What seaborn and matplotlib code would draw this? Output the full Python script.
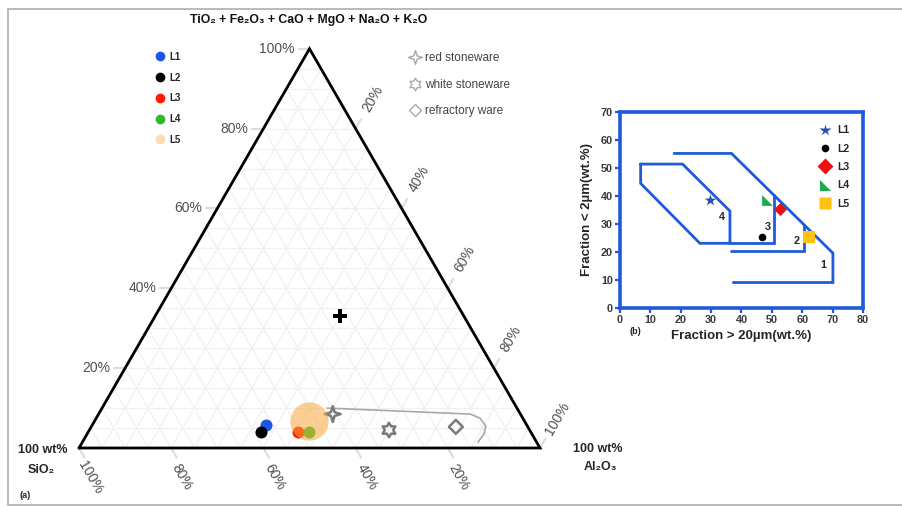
import numpy as np
import pandas as pd
import matplotlib
matplotlib.use("Agg")
import matplotlib.pyplot as plt
from matplotlib.lines import Line2D
from matplotlib.path import Path
import seaborn as sns

# ---------------- data: ternary diagram (a) ----------------
samples = ["L1", "L2", "L3", "L4", "L5"]
sample_sio2 = [56.6, 58.5, 50.6, 48.1, 46.7]
sample_al2o3 = [37.7, 37.5, 45.4, 47.9, 46.5]
sample_other = [5.7, 4.0, 4.0, 4.0, 6.8]
sample_colors = ["#1f55e6", "#000000", "#ff1a00", "#2dbb2d", "#f9a93a"]

ref_names = ["red stoneware", "white stoneware", "refractory ware"]
ref_sio2 = [40.7, 30.5, 15.6]
ref_al2o3 = [50.8, 65.0, 79.1]
ref_other = [8.5, 4.5, 5.3]

plus_sio2 = [26.8]
plus_al2o3 = [40.1]
plus_other = [33.1]

curve_al2o3 = [48.8, 80.6, 83.2, 85.5, 86.1, 85.8]
curve_other = [10.0, 8.5, 7.5, 5.5, 3.5, 1.5]

tern_ticks = [20, 40, 60, 80, 100]
tern_title = "TiO\u2082 + Fe\u2082O\u2083 + CaO + MgO + Na\u2082O + K\u2082O"

# ---------------- data: grain-size diagram (b) ----------------
zone4_x = [6.8, 20.6, 36.2, 36.2, 26.3, 6.8, 6.8]
zone4_y = [51.4, 51.4, 34.6, 23.1, 23.1, 44.5, 51.4]
zone3_x = [50.6, 50.6, 36.2]
zone3_y = [40.4, 23.1, 23.1]
zone2_x = [60.5, 60.5, 36.7]
zone2_y = [29.8, 20.5, 20.5]
zone1_x = [17.8, 36.7, 70.1, 70.1, 37.3]
zone1_y = [55.2, 55.2, 19.6, 9.1, 9.1]
zone_names = ["1", "2", "3", "4"]
zone_label_x = [66.8, 58.3, 48.8, 33.5]
zone_label_y = [15.2, 24.1, 28.8, 32.4]

pb_x = [29.6, 46.8, 52.7, 48.5, 62.1]
pb_y = [38.6, 25.3, 35.2, 38.6, 25.5]
pb_colors = ["#274fb0", "#000000", "#ee1111", "#1faa4a", "#ffc20e"]

# ---------------- style ----------------
sns.set_theme(style="white")
plt.rcParams["font.family"] = ["Liberation Sans", "DejaVu Sans"]

W, Hpx = 903, 507
fig = plt.figure(figsize=(W / 100, Hpx / 100), dpi=100)
fig.patch.set_facecolor("white")


def fx(px):
    return px / W


def fy(py):
    return 1 - py / Hpx


# outer frame (open on the right)
for xs, ys in [([8, W], [9, 9]), ([8, 8], [9, 505]), ([8, W], [505, 505])]:
    fig.add_artist(Line2D([fx(x) for x in xs], [fy(y) for y in ys],
                          color="#b4b4b4", lw=1.3))

# ---------------- ternary axes ----------------
H = np.sqrt(3) / 2
tri_left, tri_right, tri_base = 79, 540, 448
side = tri_right - tri_left
ax = fig.add_axes([fx(tri_left), fy(tri_base), side / W, side * H / Hpx])
ax.set_xlim(0, 1)
ax.set_ylim(0, H)
ax.axis("off")
u = 1 / side  # one pixel in data units


def tern_xy(sio2, al2o3, other):
    s = np.asarray(sio2, float) + np.asarray(al2o3, float) + np.asarray(other, float)
    a = np.asarray(al2o3, float) / s
    t = np.asarray(other, float) / s
    return a + t / 2, t * H


# grid every 5 %
gkw = dict(color="#f1f1f1", lw=0.9, zorder=0)
for k in range(1, 20):
    f = k / 20
    ax.plot([f / 2, 1 - f / 2], [f * H, f * H], **gkw)
    ax.plot([f, f + (1 - f) / 2], [0, (1 - f) * H], **gkw)
    ax.plot([1 - f, (1 - f) / 2], [0, (1 - f) * H], **gkw)

# outline
ax.plot([0, 1, 0.5, 0], [0, 0, H, 0], color="black", lw=2, zorder=5,
        clip_on=False, solid_joinstyle="miter")

tick_col = "#dcdcdc"
lab_col = "#505050"
dl = np.array([0.5, H])      # up-right
db = np.array([0.5, -H])     # down-right
for v in tern_ticks:
    f = v / 100
    # left axis (other oxides)
    p = np.array([f / 2, f * H])
    ax.plot([p[0] - 11 * u, p[0]], [p[1], p[1]], color=tick_col, lw=1.5, clip_on=False)
    ax.text(p[0] - 15 * u, p[1], f"{v}%", ha="right", va="center",
            fontsize=10, color=lab_col)
    # right axis (Al2O3)
    p = np.array([0.5 + f / 2, (1 - f) * H])
    q = p + 11 * u * dl
    ax.plot([p[0], q[0]], [p[1], q[1]], color=tick_col, lw=1.5, clip_on=False)
    r = p + 34 * u * dl
    ax.text(r[0], r[1], f"{v}%", ha="center", va="center", rotation=60,
            fontsize=10, color=lab_col)
    # bottom axis (SiO2)
    p = np.array([1 - f, 0])
    q = p + 11 * u * db
    ax.plot([p[0], q[0]], [p[1], q[1]], color=tick_col, lw=1.5, clip_on=False)
    r = p + np.array([11 * u, -29 * u])
    ax.text(r[0], r[1], f"{v}%", ha="center", va="center", rotation=-60,
            fontsize=10, color=lab_col)

# boundary curve
cx, cy = tern_xy([100 - a - o for a, o in zip(curve_al2o3, curve_other)],
                 curve_al2o3, curve_other)
ax.plot(cx, cy, color="#a8a8a8", lw=1.2, zorder=2, solid_capstyle="round")


def star_path(n, inner, rot=90):
    ang = np.deg2rad(rot) + np.arange(2 * n) * np.pi / n
    rad = np.where(np.arange(2 * n) % 2 == 0, 1.0, inner)
    verts = np.column_stack([rad * np.cos(ang), rad * np.sin(ang)])
    verts = np.vstack([verts, verts[:1]])
    codes = [Path.MOVETO] + [Path.LINETO] * (2 * n - 1) + [Path.CLOSEPOLY]
    return Path(verts, codes)


ref_markers = [star_path(4, 0.33), star_path(6, 0.58), "D"]
ref_sizes = [130, 110, 50]
rx, ry = tern_xy(ref_sio2, ref_al2o3, ref_other)
for i, name in enumerate(ref_names):
    d = pd.DataFrame({"x": [rx[i]], "y": [ry[i]]})
    sns.scatterplot(data=d, x="x", y="y", marker=ref_markers[i], s=ref_sizes[i],
                    facecolor="none", edgecolor="#7a7a7a", linewidth=1.8,
                    ax=ax, zorder=3, legend=False)

# plus marker
px_, py_ = tern_xy(plus_sio2, plus_al2o3, plus_other)
sns.scatterplot(x=px_, y=py_, marker="P", s=110, color="black", linewidth=0,
                ax=ax, zorder=4, legend=False)

# samples
sx, sy = tern_xy(sample_sio2, sample_al2o3, sample_other)
df_s = pd.DataFrame({"sample": samples, "x": sx, "y": sy})
pal = dict(zip(samples, sample_colors))
for i, name in enumerate(samples):
    d = df_s.iloc[[i]]
    big = name == "L5"
    sns.scatterplot(data=d, x="x", y="y", hue="sample", palette=pal,
                    s=760 if big else 75, alpha=0.55 if big else 1.0,
                    linewidth=0, ax=ax, zorder=6 + i, legend=False)

ax.set_xlabel("")
ax.set_ylabel("")

# legends for ternary
sample_handles = [Line2D([], [], ls="none", marker="o", markersize=7,
                         markerfacecolor=c, markeredgecolor="none",
                         alpha=0.4 if n == "L5" else 1.0)
                  for n, c in zip(samples, sample_colors)]
leg1 = fig.legend(handles=sample_handles, labels=samples, loc="upper left",
                  bbox_to_anchor=(fx(150), fy(47)), frameon=False,
                  prop=dict(size=7, weight="bold"), labelspacing=1.1,
                  handlelength=1.0, handletextpad=0.5, borderpad=0)

ref_handles = [Line2D([], [], ls="none", marker=m, markersize=ms,
                      markerfacecolor="none", markeredgecolor="#a8a8a8", mew=1.0)
               for m, ms in zip(ref_markers, [10, 9, 6])]
leg2 = fig.legend(handles=ref_handles, labels=ref_names, loc="upper left",
                  bbox_to_anchor=(fx(403), fy(46)), frameon=False,
                  prop=dict(size=8.5), labelspacing=1.25, labelcolor="#444444",
                  handlelength=1.0, handletextpad=0.4, borderpad=0)

# texts
fig.text(fx(309), fy(20), tern_title, ha="center", va="center",
         fontsize=8.8, fontweight="bold", color="#111111")
fig.text(fx(43), fy(450), "100 wt%", ha="center", va="center",
         fontsize=9, fontweight="bold")
fig.text(fx(41), fy(470), "SiO\u2082", ha="center", va="center",
         fontsize=9, fontweight="bold")
fig.text(fx(598), fy(449), "100 wt%", ha="center", va="center",
         fontsize=9, fontweight="bold")
fig.text(fx(600), fy(467), "Al\u2082O\u2083", ha="center", va="center",
         fontsize=9, fontweight="bold")
fig.text(fx(25), fy(496), "(a)", ha="center", va="center",
         fontsize=6.5, fontweight="bold")

# ---------------- panel (b) ----------------
blue = "#1f5bd8"
bx0, bx1, by0, by1 = 620, 863, 112, 308
axb = fig.add_axes([fx(bx0), fy(by1), (bx1 - bx0) / W, (by1 - by0) / Hpx])
axb.set_xlim(0, 80)
axb.set_ylim(0, 70)
axb.set_xticks(range(0, 81, 10))
axb.set_yticks(range(0, 71, 10))
for sp in axb.spines.values():
    sp.set_color(blue)
    sp.set_linewidth(2.6)
axb.tick_params(direction="out", length=3.5, width=1.6, color=blue,
                labelsize=7.8, labelcolor="#3a3a3a", pad=1.5,
                bottom=True, left=True)
for lbl in axb.get_xticklabels() + axb.get_yticklabels():
    lbl.set_fontweight("bold")

lkw = dict(color=blue, lw=2.0, solid_joinstyle="miter", zorder=2)
axb.plot(zone4_x, zone4_y, **lkw)
axb.plot(zone3_x, zone3_y, **lkw)
axb.plot(zone2_x, zone2_y, **lkw)
axb.plot(zone1_x, zone1_y, **lkw)
for n, x, y in zip(zone_names, zone_label_x, zone_label_y):
    axb.text(x, y, n, ha="center", va="center", fontsize=7.8, fontweight="bold")

tri_path = Path([(-1, -1), (1, -1), (-1, 1), (-1, -1)],
                [Path.MOVETO, Path.LINETO, Path.LINETO, Path.CLOSEPOLY])
pb_markers = ["*", "o", "D", tri_path, "s"]
pb_sizes = [75, 30, 45, 60, 70]
df_b = pd.DataFrame({"sample": samples, "x": pb_x, "y": pb_y})
for i, name in enumerate(samples):
    sns.scatterplot(data=df_b.iloc[[i]], x="x", y="y", marker=pb_markers[i],
                    s=pb_sizes[i], color=pb_colors[i], linewidth=0, ax=axb,
                    zorder=4, legend=False)
axb.set_xlabel("Fraction > 20\u00b5m(wt.%)", fontsize=9.5, fontweight="bold",
               labelpad=4)
axb.set_ylabel("Fraction < 2\u00b5m(wt.%)", fontsize=9.5, fontweight="bold",
               labelpad=6)

b_handles = [Line2D([], [], ls="none", marker=m, markersize=ms,
                    markerfacecolor=c, markeredgecolor="none")
             for m, ms, c in zip(pb_markers, [9, 5.5, 8, 8, 9], pb_colors)]
axb.legend(handles=b_handles, labels=samples, loc="upper left",
           bbox_to_anchor=(fx(815), fy(120)), bbox_transform=fig.transFigure,
           frameon=False, prop=dict(size=7.5, weight="bold"), labelspacing=0.8,
           handlelength=1.0, handletextpad=0.6, borderpad=0)

fig.text(fx(635), fy(331), "(b)", ha="center", va="center",
         fontsize=6.5, fontweight="bold")

fig.savefig("out.png", dpi=100, facecolor="white")
